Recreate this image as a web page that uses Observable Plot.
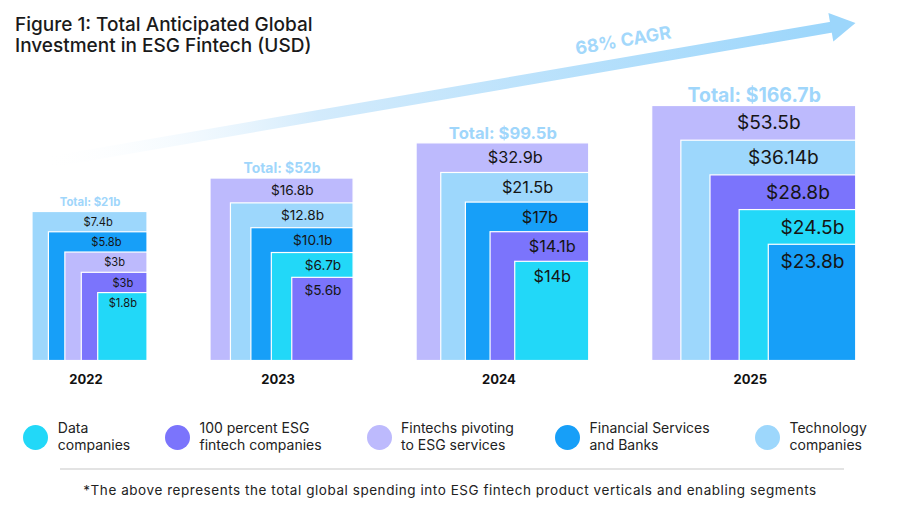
<!DOCTYPE html>
<html>
<head>
<meta charset="utf-8">
<script src="https://cdn.jsdelivr.net/npm/d3@7"></script>
<script src="https://cdn.jsdelivr.net/npm/@observablehq/plot@0.6"></script>
<style>
  body { margin: 0; background: #fff; font-family: Inter, "Noto Sans", sans-serif; }
  #wrap { position: relative; width: 900px; height: 512px; overflow: hidden; background: #fff; }
  #chart { position: absolute; left: 0; top: 0; }
  #title { position: absolute; left: 15px; top: 14px; font-size: 19px; line-height: 21px; font-weight: 500; color: #1a1a1a; z-index: 2; }
  .lg-dot { position: absolute; width: 25px; height: 25px; border-radius: 50%; }
  .lg-text { position: absolute; font-size: 14px; line-height: 16.5px; color: #222; white-space: nowrap; }
  #sep { position: absolute; left: 60px; top: 468px; width: 784px; height: 2px; background: #e3e3e3; }
  #foot { position: absolute; left: 0; width: 900px; top: 482px; text-align: center; font-size: 13.5px; letter-spacing: 0.55px; color: #222; }
  g[aria-label="cagr"] text { letter-spacing: 2.6px; }
  g[aria-label="values"] text { letter-spacing: 0.4px; }
  g[aria-label="totals"] text { letter-spacing: 0.5px; }
</style>
</head>
<body>
<div id="wrap">
  <div id="title">Figure 1: Total Anticipated Global<br>Investment in ESG Fintech (USD)</div>
  <div id="chart"></div>
  <div id="sep"></div>
  <div id="foot">*The above represents the total global spending into ESG fintech product verticals and enabling segments</div>
</div>
<script>
// ---------- data ----------
const years = ["2022", "2023", "2024", "2025"];
const categories = [
  "Data companies",
  "100 percent ESG fintech companies",
  "Fintechs pivoting to ESG services",
  "Financial Services and Banks",
  "Technology companies"
];
const legendLines = [
  ["Data", "companies"],
  ["100 percent ESG", "fintech companies"],
  ["Fintechs pivoting", "to ESG services"],
  ["Financial Services", "and Banks"],
  ["Technology", "companies"]
];
const colors = ["#22d8f8", "#7b74fc", "#bdbafd", "#179ff8", "#9dd7fc"];
// values in category order (USD billions)
const values2022 = [1.8, 3, 3, 5.8, 7.4];
const values2023 = [6.7, 5.6, 16.8, 10.1, 12.8];
const values2024 = [14, 14.1, 32.9, 17, 21.5];
const values2025 = [24.5, 28.8, 53.5, 23.8, 36.14];
const growthLabel = "68% CAGR";

// ---------- layout (px) ----------
const layout = {
  width: 900, height: 400,
  left0: 32, gap: 63, base: 360.5,
  wRange: [115, 204], hRange: [149, 255],
  stepsX: 7, stepsY: 7.35,
  arrow: { x1: 40, y1: 163, tipX: 855, tipY: 22.5, stroke: 11, head: 25, labelT: 0.741, labelOff: 22 },
  legendX: [35.8, 177.5, 379, 567.5, 767.5], legendY: 437.5
};

const valuesByYear = [values2022, values2023, values2024, values2025];
const totals = valuesByYear.map(v => +d3.sum(v).toFixed(1));
const sq = totals.map(Math.sqrt);
const wS = d3.scaleLinear().domain(d3.extent(sq)).range(layout.wRange);
const hS = d3.scaleLinear().domain(d3.extent(sq)).range(layout.hRange);

let cursor = layout.left0;
const groups = years.map((year, i) => {
  const w = wS(sq[i]), h = hS(sq[i]);
  const g = { year, total: totals[i], x1: cursor, x2: cursor + w, y1: layout.base - h, y2: layout.base,
              dx: w / layout.stepsX, dy: h / layout.stepsY };
  g.cx = (g.x1 + g.x2) / 2;
  cursor += w + layout.gap;
  return g;
});

const boxes = [];
groups.forEach((g, i) => {
  const order = categories.map((c, j) => ({ c, j, v: valuesByYear[i][j] }))
    .sort((a, b) => (b.v - a.v) || (b.j - a.j));
  order.forEach((o, k) => {
    const x1 = g.x1 + k * g.dx, y1 = g.y1 + k * g.dy;
    const stripLeft = k < order.length - 1 ? g.x1 + (k + 1) * g.dx : x1;
    boxes.push({ year: g.year, category: o.c, value: o.v, label: `$${o.v}b`,
      x1, x2: g.x2, y1, y2: g.y2, lx: (stripLeft + g.x2) / 2, ly: y1 + g.dy / 2, fs: g.dy * 0.55 });
  });
});

// arrow geometry
const A = layout.arrow;
const len = Math.hypot(A.tipX - A.x1, A.tipY - A.y1);
const ux = (A.tipX - A.x1) / len, uy = (A.tipY - A.y1) / len;
const angle = Math.atan2(-(A.tipY - A.y1), A.tipX - A.x1) * 180 / Math.PI;
const arrow = {
  x1: A.x1, y1: A.y1,
  x2: A.tipX - ux * (A.head - 1), y2: A.tipY - uy * (A.head - 1),
  hx: A.tipX - ux * A.head * 2 / 3, hy: A.tipY - uy * A.head * 2 / 3
};
const lab = {
  text: growthLabel,
  x: A.x1 + (arrow.x2 - A.x1) * A.labelT + uy * A.labelOff,
  y: A.y1 + (arrow.y2 - A.y1) * A.labelT - ux * A.labelOff
};

const defs = (index, scales) => {
  const d = d3.create("svg:defs");
  const lg = d.append("linearGradient").attr("id", "arrowGrad").attr("gradientUnits", "userSpaceOnUse")
    .attr("x1", scales.x(arrow.x1)).attr("y1", scales.y(arrow.y1))
    .attr("x2", scales.x(arrow.x2)).attr("y2", scales.y(arrow.y2));
  lg.append("stop").attr("offset", 0).attr("stop-color", "#ffffff").attr("stop-opacity", 0);
  lg.append("stop").attr("offset", 0.35).attr("stop-color", "#d3ebfc");
  lg.append("stop").attr("offset", 1).attr("stop-color", "#9cd6fb");
  return d.node();
};

const chart = Plot.plot({
  width: layout.width, height: layout.height, margin: 0,
  style: { fontFamily: "Inter, 'Noto Sans', sans-serif", background: "transparent", overflow: "visible" },
  x: { domain: [0, layout.width], range: [0, layout.width], axis: null },
  y: { domain: [0, layout.height], range: [0, layout.height], axis: null },
  color: { domain: categories, range: colors },
  marks: [
    defs,
    Plot.link([arrow], { x1: "x1", y1: "y1", x2: "x2", y2: "y2", stroke: "url(#arrowGrad)", strokeWidth: A.stroke }),
    Plot.dot([arrow], { x: "hx", y: "hy", symbol: "triangle", r: Math.sqrt(Math.sqrt(3) / 4 * Math.pow(A.head * 2 / Math.sqrt(3), 2) / Math.PI),
      fill: "#9cd6fb", stroke: "none", rotate: 90 - angle }),
    Plot.text([lab], { x: "x", y: "y", text: "text", rotate: -angle, fontSize: 18, fontWeight: 700, fill: "#a3d8fb", ariaLabel: "cagr" }),
    Plot.rect(boxes, { x1: "x1", x2: "x2", y1: "y1", y2: "y2", fill: "category", stroke: "#ffffff", strokeWidth: 1.2 }),
    Plot.text(boxes, { x: "lx", y: "ly", text: "label", fontSize: d => d.fs, fill: "#151515", ariaLabel: "values" }),
    Plot.text(groups, { x: "cx", y: d => d.y1 - 10, text: d => `Total: $${d.total}b`, fontSize: d => d.dy * 0.56, fontWeight: 700, fill: "#9fd6fb", ariaLabel: "totals" }),
    Plot.text(groups, { x: "cx", y: d => d.y2 + 19, dx: -4, text: "year", fontSize: 13, fontWeight: 700, fill: "#111" })
  ]
});
document.getElementById("chart").appendChild(chart);

// legend (HTML, below the chart)
const wrap = document.getElementById("wrap");
categories.forEach((c, i) => {
  const dot = document.createElement("div");
  dot.className = "lg-dot";
  dot.style.left = (layout.legendX[i] - 12.5) + "px";
  dot.style.top = (layout.legendY - 12.5) + "px";
  dot.style.background = colors[i];
  wrap.appendChild(dot);
  const t = document.createElement("div");
  t.className = "lg-text";
  t.style.left = (layout.legendX[i] + 22) + "px";
  t.style.top = (layout.legendY - 17.5) + "px";
  t.innerHTML = legendLines[i].join("<br>");
  wrap.appendChild(t);
});
</script>
</body>
</html>
